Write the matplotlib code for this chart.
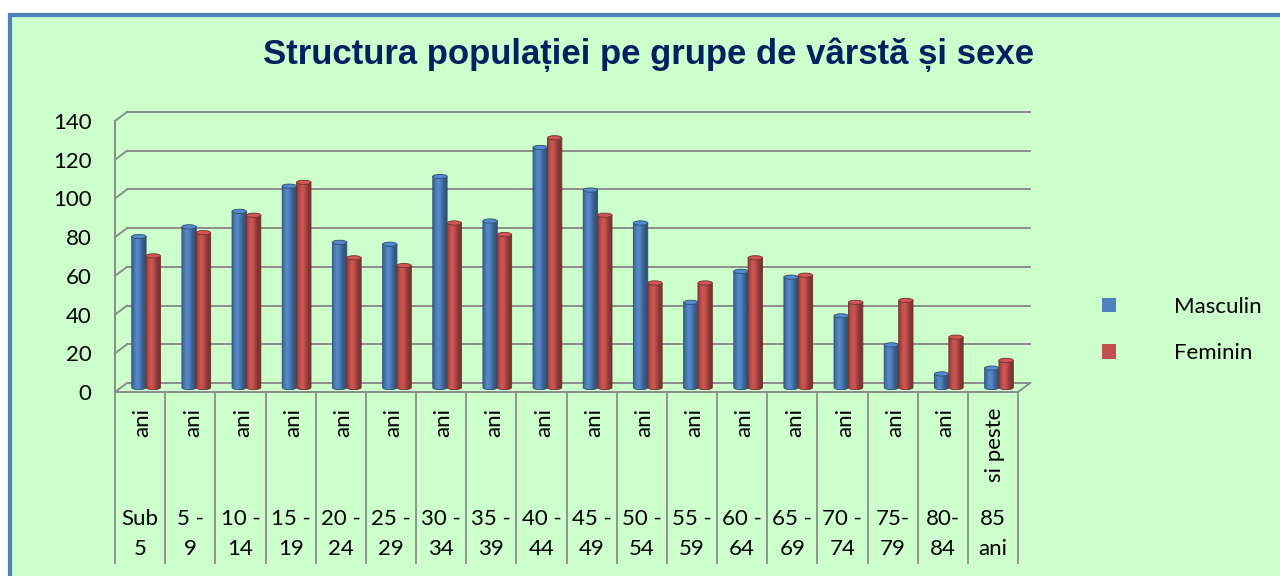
import matplotlib
matplotlib.use('Agg')
import matplotlib.pyplot as plt
import numpy as np
from matplotlib.patches import Rectangle, Ellipse, Patch, PathPatch
from matplotlib.path import Path

# date
masculin = [78, 83, 91, 104, 75, 74, 109, 86, 124, 102, 85, 44, 60, 57, 37, 22, 7, 10]
feminin = [68, 80, 89, 106, 67, 63, 85, 79, 129, 89, 54, 54, 67, 58, 44, 45, 26, 14]
eticheta_sus = ['ani'] * 17 + ['si peste']
eticheta_r1 = ['Sub', '5 -', '10 -', '15 -', '20 -', '25 -', '30 -', '35 -', '40 -',
               '45 -', '50 -', '55 -', '60 -', '65 -', '70 -', '75-', '80-', '85']
eticheta_r2 = ['5', '9', '14', '19', '24', '29', '34', '39', '44', '49', '54', '59',
               '64', '69', '74', '79', '84', 'ani']
yticks = [0, 20, 40, 60, 80, 100, 120, 140]
serii = ['Masculin', 'Feminin']

albastru = np.array([79, 129, 189]) / 255
rosu = np.array([192, 80, 77]) / 255
verde = '#CCFFCC'
gri = '#8C8C8C'
font = 'Lato'

fig = plt.figure(figsize=(12.8, 5.76), dpi=100, facecolor='white')

# fundal + chenar albastru
fig.patches.append(Rectangle((10 / 1280, -0.2), 2, (576 - 15) / 576 + 0.2,
                             transform=fig.transFigure, facecolor=verde,
                             edgecolor='#4F81BD', lw=3, zorder=-5))

ax = fig.add_axes([115 / 1280, 184 / 576, 903 / 1280, 271 / 576])
ax.set_facecolor('none')
for s in ax.spines.values():
    s.set_visible(False)

n = len(masculin)
dx, dy = 0.24, 4.65  # adancimea 3D

# peretele din spate + grila
for v in yticks:
    ax.plot([dx, n + dx], [v + dy, v + dy], color=gri, lw=1.4, clip_on=False, zorder=1)
    ax.plot([0, dx], [v, v + dy], color=gri, lw=1.4, clip_on=False, zorder=1)
ax.plot([0, 0], [0, yticks[-1]], color=gri, lw=1.4, clip_on=False, zorder=1)
ax.plot([0, n], [0, 0], color=gri, lw=1.4, clip_on=False, zorder=1)
ax.plot([n, n + dx], [0, dy], color=gri, lw=1.4, clip_on=False, zorder=1)


def gradient(base, k=48):
    t = np.linspace(0, 1, k)
    f = 0.62 + 0.45 * np.exp(-((t - 0.35) / 0.32) ** 2)
    c = np.clip(base[None, :] * f[:, None], 0, 1)
    return c[None, :, :]


def cilindru(xc, w, val, base, z):
    y0 = dy / 2
    y1 = y0 + val
    h = 2.2
    th = np.linspace(np.pi, 2 * np.pi, 30)
    verts = [(xc - w / 2, y1)] + list(zip(xc + w / 2 * np.cos(th), y0 + h / 2 * np.sin(th))) \
        + [(xc + w / 2, y1), (xc - w / 2, y1)]
    codes = [Path.MOVETO] + [Path.LINETO] * (len(verts) - 2) + [Path.CLOSEPOLY]
    path = Path(verts, codes)
    contur = PathPatch(path, facecolor='none', edgecolor=base * 0.6, lw=0.6,
                       zorder=z + 0.05, clip_on=False)
    ax.add_patch(contur)
    im = ax.imshow(gradient(base), extent=(xc - w / 2, xc + w / 2, y0 - h / 2, y1),
                   aspect='auto', origin='lower', interpolation='bilinear', zorder=z)
    im.set_clip_path(contur)
    ax.add_patch(Ellipse((xc, y1), w, h, facecolor=np.clip(base * 1.08, 0, 1),
                         edgecolor=base * 0.6, lw=0.6, zorder=z + 0.1, clip_on=False))


w = 0.287
for i in range(n):
    cilindru(i + 0.5 - w / 2 + dx / 2, w, masculin[i], albastru, 2 + i * 0.3)
    cilindru(i + 0.5 + w / 2 + dx / 2, w, feminin[i], rosu, 2.15 + i * 0.3)

ax.set_xlim(0, n)
ax.set_ylim(0, yticks[-1])
ax.set_xticks([])
ax.set_yticks(yticks)
ax.set_yticklabels([str(v) for v in yticks], fontsize=16, family=font)
ax.tick_params(axis='y', length=0, pad=17)

# etichete categorii pe doua niveluri
tr = ax.get_xaxis_transform()
for i in range(n + 1):
    ax.plot([i, i], [0, -0.631], color=gri, lw=1.3, transform=tr, clip_on=False)
for i in range(n):
    ax.text(i + 0.55, -0.059, eticheta_sus[i], rotation=90, ha='center', va='top',
            fontsize=16, family=font, transform=tr)
    ax.text(i + 0.5, -0.469, eticheta_r1[i], ha='center', va='center',
            fontsize=16, family=font, transform=tr)
    ax.text(i + 0.5, -0.579, eticheta_r2[i], ha='center', va='center',
            fontsize=16, family=font, transform=tr)

fig.text(0.507, 0.905, 'Structura populației pe grupe de vârstă și sexe', ha='center',
         va='center', fontsize=25, fontweight='bold', family='Liberation Sans', color='#002060')

handles = [Patch(facecolor=albastru), Patch(facecolor=rosu)]
fig.legend(handles, serii, loc='center left', bbox_to_anchor=(1102 / 1280, (576 - 330) / 576),
           frameon=False, prop={'family': font, 'size': 16}, handlelength=0.64,
           handleheight=0.64, handletextpad=2.6, labelspacing=1.2, borderpad=0,
           borderaxespad=0)

fig.savefig('out.png', dpi=100, facecolor='white')
